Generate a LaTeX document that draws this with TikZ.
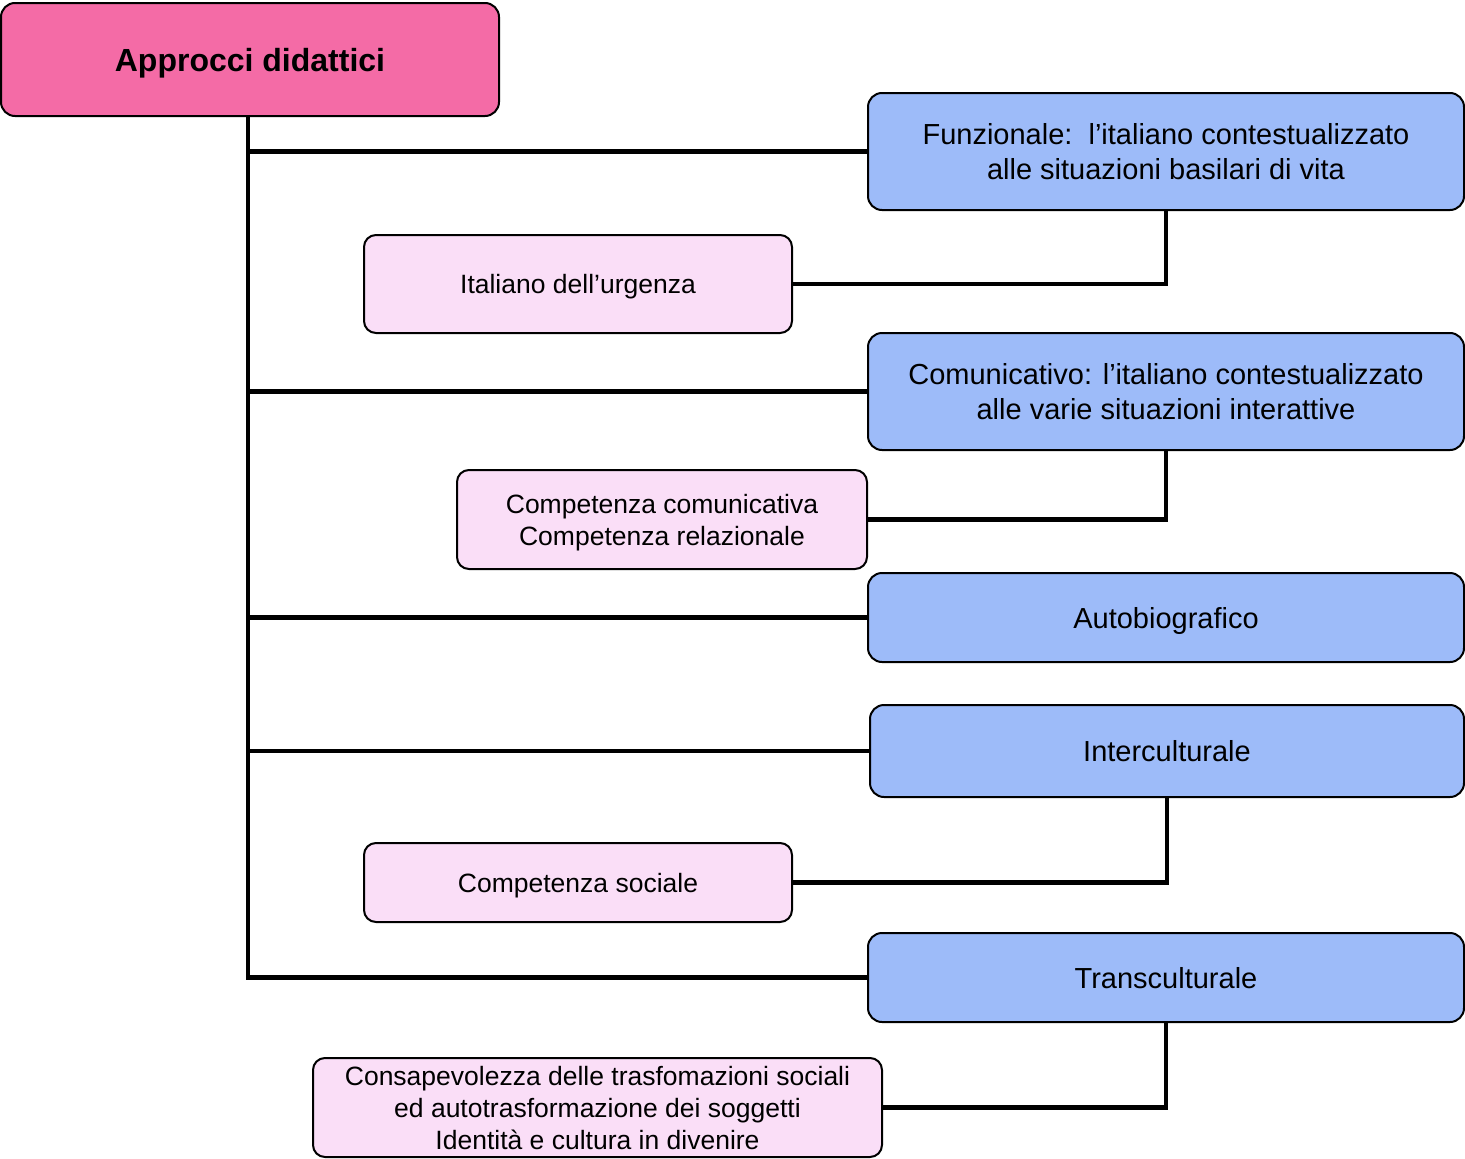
\documentclass[tikz,border=0pt]{standalone}
\usepackage{fontspec}
\setmainfont{Liberation Sans}
\definecolor{rootpink}{HTML}{F46BA6}
\definecolor{bluebox}{HTML}{9DBBF9}
\definecolor{lightpink}{HTML}{FADEF7}
\begin{document}
\begin{tikzpicture}[x=1pt,y=-1pt,
  box/.style={draw=black, line width=2pt, rounded corners=14pt, align=center, inner sep=0pt, text depth=0pt},
  rootbox/.style={box, fill=rootpink, font=\fontsize{32}{38}\selectfont\bfseries},
  mainbox/.style={box, fill=bluebox, font=\fontsize{29}{35}\selectfont},
  subbox/.style={box, fill=lightpink, rounded corners=12pt, font=\fontsize{26.5}{32}\selectfont},
  conn/.style={draw=black, line width=4.5pt}]
\useasboundingbox (0,0) rectangle (1465,1159);
\coordinate (tr) at (248,0);
\node[rootbox, minimum width=498pt, minimum height=113pt] (root) at (250,59.5) {Approcci didattici};
\node[mainbox, minimum width=596pt, minimum height=117pt] (funz) at (1166,151.5) {Funzionale:\ \ l’italiano contestualizzato\\alle situazioni basilari di vita};
\node[subbox, minimum width=428pt, minimum height=98pt] (urg) at (578,284) {Italiano dell’urgenza};
\node[mainbox, minimum width=596pt, minimum height=117pt] (com) at (1166,391.5) {Comunicativo: l’italiano contestualizzato\\alle varie situazioni interattive};
\node[subbox, minimum width=410pt, minimum height=99pt] (compc) at (662,519.5) {Competenza comunicativa\\Competenza relazionale};
\node[mainbox, minimum width=596pt, minimum height=89pt] (auto) at (1166,617.5) {Autobiografico};
\node[mainbox, minimum width=594pt, minimum height=92pt] (inter) at (1167,751) {Interculturale};
\node[subbox, minimum width=428pt, minimum height=79pt] (comps) at (578,882.5) {Competenza sociale};
\node[mainbox, minimum width=596pt, minimum height=89pt] (trans) at (1166,977.5) {Transculturale};
\node[subbox, minimum width=569pt, minimum height=99pt] (cons) at (597.5,1107.5) {Consapevolezza delle trasfomazioni sociali\\ed autotrasformazione dei soggetti\\Identità e cultura in divenire};
% trunk and branches
\draw[conn] (root.south -| tr) |- (trans.west);
\draw[conn] (funz.west -| tr) -- (funz.west);
\draw[conn] (com.west -| tr) -- (com.west);
\draw[conn] (auto.west -| tr) -- (auto.west);
\draw[conn] (inter.west -| tr) -- (inter.west);
% sub connectors
\draw[conn] (urg.east) -| (funz.south);
\draw[conn] (compc.east) -| (com.south);
\draw[conn] (comps.east) -| (inter.south);
\draw[conn] (cons.east) -| (trans.south);
\end{tikzpicture}
\end{document}
